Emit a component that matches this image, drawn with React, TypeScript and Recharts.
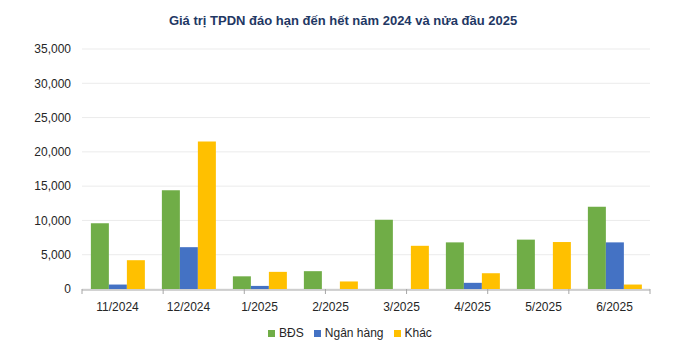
import React from "react";
import { BarChart, Bar, XAxis, YAxis, CartesianGrid, Legend } from "recharts";

const categories = ["11/2024", "12/2024", "1/2025", "2/2025", "3/2025", "4/2025", "5/2025", "6/2025"];
const bdsValues = [9600, 14400, 1850, 2600, 10100, 6800, 7200, 12000];
const nganHangValues = [650, 6100, 450, 0, 0, 900, 0, 6800];
const khacValues = [4200, 21500, 2500, 1100, 6300, 2300, 6850, 650];
const yTicks = [0, 5000, 10000, 15000, 20000, 25000, 30000, 35000];
const boundaryTicks = [0, 1, 2, 3, 4, 5, 6, 7, 8];

const title = "Giá trị TPDN đáo hạn đến hết năm 2024 và nửa đầu 2025";

const data = categories.map((c, i) => ({
  name: c,
  bds: bdsValues[i],
  nh: nganHangValues[i],
  khac: khacValues[i],
}));

const FONT = "'Liberation Sans', Arial, sans-serif";
const TEXT = "#262626";

const fmt = (v: number) => v.toLocaleString("en-US");

export default function App() {
  return (
    <div style={{ position: "absolute", left: 0, top: 0, width: 686, height: 362, background: "#fff", fontFamily: FONT }}>
      <div
        style={{
          position: "absolute",
          left: 0,
          top: 13,
          width: 686,
          textAlign: "center",
          fontSize: 13,
          fontWeight: "bold",
          color: "#1F3864",
          fontFamily: FONT,
        }}
      >
        {title}
      </div>
      <BarChart
        width={686}
        height={362}
        data={data}
        margin={{ top: 49, right: 36, left: 0, bottom: 12 }}
        barCategoryGap="12.5%"
        barGap={0}
      >
        <CartesianGrid vertical={false} stroke="#EBEBEB" xAxisId="b" />
        <XAxis
          xAxisId="a"
          type="number"
          domain={[0, 8]}
          ticks={boundaryTicks}
          tickFormatter={() => ""}
          axisLine={false}
          tickLine={{ stroke: "#A6A6A6" }}
          tickSize={5}
          height={1}
          interval={0}
          allowDataOverflow
        />
        <XAxis
          xAxisId="b"
          dataKey="name"
          axisLine={{ stroke: "#A6A6A6" }}
          tickLine={false}
          tick={{ fill: TEXT, fontSize: 12, fontFamily: FONT }}
          tickMargin={6}
          height={36}
          interval={0}
        />
        <YAxis
          width={82}
          domain={[0, 35000]}
          ticks={yTicks}
          tickFormatter={fmt}
          axisLine={false}
          tickLine={false}
          tick={{ fill: TEXT, fontSize: 12, fontFamily: FONT }}
          tickMargin={5}
          interval={0}
        />
        <Legend
          verticalAlign="bottom"
          height={24}
          iconType="square"
          iconSize={7}
          itemSorter={null}
          wrapperStyle={{ fontSize: 12, fontFamily: FONT, color: TEXT, left: 30 }}
          formatter={(value: string) => <span style={{ color: TEXT }}>{value}</span>}
        />
        <Bar xAxisId="b" dataKey="bds" name="BĐS" fill="#70AD47" isAnimationActive={false} />
        <Bar xAxisId="b" dataKey="nh" name="Ngân hàng" fill="#4472C4" isAnimationActive={false} />
        <Bar xAxisId="b" dataKey="khac" name="Khác" fill="#FFC000" isAnimationActive={false} />
      </BarChart>
    </div>
  );
}
